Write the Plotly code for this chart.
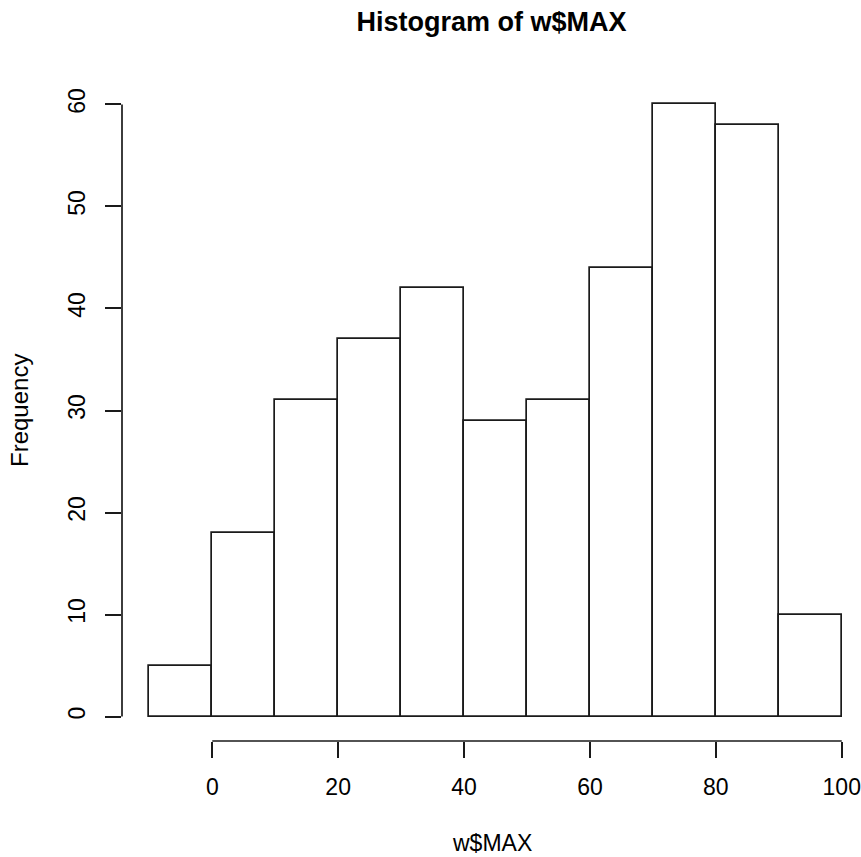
import plotly.graph_objects as go

# Histogram data (bin edges and counts)
bin_edges = [-10, 0, 10, 20, 30, 40, 50, 60, 70, 80, 90, 100]
counts = [5, 18, 31, 37, 42, 29, 31, 44, 60, 58, 10]
x_ticks = [0, 20, 40, 60, 80, 100]
y_ticks = [0, 10, 20, 30, 40, 50, 60]

title_text = "Histogram of w$MAX"
x_label = "w$MAX"
y_label = "Frequency"

centers = [(a + b) / 2 for a, b in zip(bin_edges[:-1], bin_edges[1:])]
widths = [b - a for a, b in zip(bin_edges[:-1], bin_edges[1:])]

LINE = "#1a1a1a"
LW = 1.7
FONT = "Liberation Sans, Arial, Helvetica, sans-serif"

fig = go.Figure()
fig.add_trace(go.Bar(
    x=centers, y=counts, width=widths,
    marker=dict(color="white", line=dict(color=LINE, width=LW)),
    showlegend=False, hoverinfo="x+y",
))

# R-style axis lines spanning only the tick range
fig.add_shape(type="line", xref="x domain", yref="y",
              x0=0, x1=0, y0=min(y_ticks), y1=max(y_ticks),
              line=dict(color=LINE, width=LW))
fig.add_shape(type="line", xref="x", yref="y domain",
              x0=min(x_ticks), x1=max(x_ticks), y0=0, y1=0,
              line=dict(color=LINE, width=LW))

fig.update_layout(
    width=861, height=857,
    margin=dict(l=122, r=0, t=80, b=116, autoexpand=False),
    paper_bgcolor="white", plot_bgcolor="white",
    font=dict(family=FONT, color="black", size=23),
    bargap=0,
    title=dict(text="<b>" + title_text + "</b>", x=0.5, xref="paper",
               y=1 - 22 / 857, yref="container", yanchor="middle",
               xanchor="center", font=dict(size=27, family=FONT)),
    xaxis=dict(range=[-14.34, 103.06], tickvals=x_ticks,
               ticks="outside", ticklen=16, tickwidth=LW, tickcolor=LINE,
               showgrid=False, zeroline=False, showline=False,
               ticklabelstandoff=9, tickfont=dict(size=23)),
    yaxis=dict(range=[-2.4, 62.4], tickvals=y_ticks,
               ticks="outside", ticklen=16, tickwidth=LW, tickcolor=LINE,
               showgrid=False, zeroline=False, showline=False,
               tickangle=-90, ticklabelstandoff=11, tickfont=dict(size=23)),
    annotations=[
        dict(text=y_label, textangle=-90, xref="paper", yref="paper",
             x=(19.5 - 122) / 739, y=0.5, xanchor="center", yanchor="middle",
             showarrow=False, font=dict(size=24)),
        dict(text=x_label, xref="paper", yref="paper",
             x=0.5, y=(741 - 843) / 661, xanchor="center", yanchor="middle",
             showarrow=False, font=dict(size=23)),
    ],
)

fig.write_html("out.html")
